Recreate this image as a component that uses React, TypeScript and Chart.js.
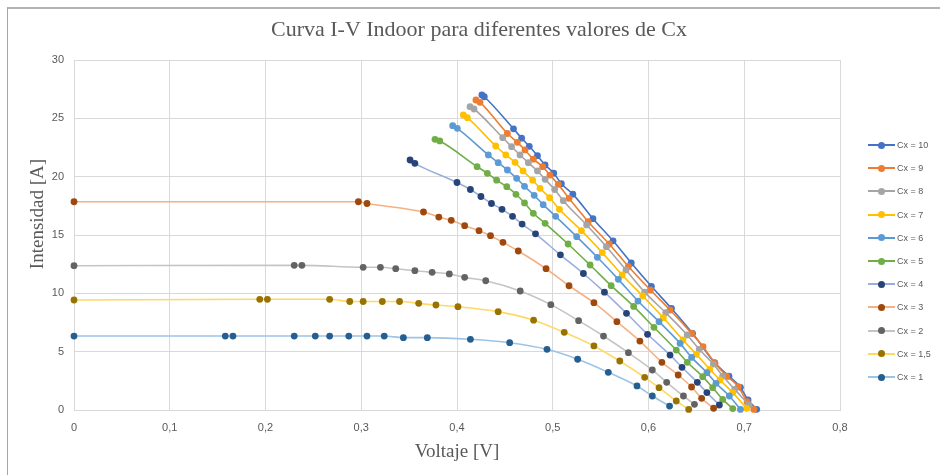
import React, { useEffect, useRef } from 'react';
import { Chart, registerables } from 'chart.js';

Chart.register(...registerables);

const chartTitle = 'Curva I-V Indoor para diferentes valores de Cx';
const xAxisTitle = 'Voltaje [V]';
const yAxisTitle = 'Intensidad [A]';
const xTickLabels = ['0', '0,1', '0,2', '0,3', '0,4', '0,5', '0,6', '0,7', '0,8'];
const yTickLabels = ['0', '5', '10', '15', '20', '25', '30'];
const seriesNames = ['Cx = 10', 'Cx = 9', 'Cx = 8', 'Cx = 7', 'Cx = 6', 'Cx = 5', 'Cx = 4', 'Cx = 3', 'Cx = 2', 'Cx = 1,5', 'Cx = 1'];

// [voltage V, current A]
const cx10: [number, number][] = [[0.426, 27.0], [0.4285, 26.85], [0.459, 24.1], [0.4675, 23.3], [0.4755, 22.6], [0.484, 21.8], [0.492, 21.0], [0.501, 20.3], [0.509, 19.4], [0.521, 18.5], [0.542, 16.4], [0.563, 14.5], [0.582, 12.6], [0.603, 10.6], [0.624, 8.7], [0.646, 6.57], [0.669, 4.06], [0.684, 2.9], [0.696, 1.94], [0.704, 0.86], [0.713, 0.06]];
const cx9: [number, number][] = [[0.4198, 26.57], [0.424, 26.37], [0.4526, 23.7], [0.463, 22.94], [0.471, 22.29], [0.4797, 21.5], [0.4895, 20.86], [0.497, 20.14], [0.5058, 19.34], [0.517, 18.14], [0.537, 16.14], [0.559, 14.23], [0.579, 12.3], [0.602, 10.29], [0.6225, 8.57], [0.645, 6.57], [0.657, 5.43], [0.6695, 4.0], [0.6817, 2.91], [0.6938, 2.0], [0.703, 0.71], [0.71, 0.05]];
const cx8: [number, number][] = [[0.4136, 26.0], [0.4178, 25.8], [0.4477, 23.34], [0.457, 22.57], [0.4658, 21.86], [0.4745, 21.2], [0.484, 20.49], [0.492, 19.77], [0.502, 18.9], [0.511, 17.94], [0.5354, 15.86], [0.556, 14.0], [0.5765, 12.0], [0.596, 10.1], [0.618, 8.34], [0.6405, 6.43], [0.653, 5.2], [0.6677, 3.94], [0.6775, 2.91], [0.69, 1.77], [0.705, 0.43]];
const cx7: [number, number][] = [[0.4066, 25.29], [0.4108, 25.06], [0.4404, 22.63], [0.451, 21.86], [0.4606, 21.23], [0.469, 20.49], [0.479, 19.7], [0.4867, 19.0], [0.4967, 18.2], [0.507, 17.2], [0.53, 15.37], [0.5517, 13.49], [0.5725, 11.57], [0.594, 9.77], [0.6155, 7.91], [0.636, 6.0], [0.65, 4.77], [0.664, 3.49], [0.6747, 2.57], [0.688, 1.49], [0.7025, 0.14]];
const cx6: [number, number][] = [[0.3955, 24.37], [0.4003, 24.14], [0.4327, 21.86], [0.443, 21.2], [0.4526, 20.57], [0.4623, 19.86], [0.4705, 19.17], [0.4806, 18.4], [0.49, 17.6], [0.503, 16.6], [0.525, 14.86], [0.5466, 13.09], [0.5685, 11.2], [0.589, 9.34], [0.611, 7.57], [0.633, 5.71], [0.645, 4.51], [0.661, 3.2], [0.6705, 2.29], [0.6844, 1.2], [0.696, 0.05]];
const cx5: [number, number][] = [[0.377, 23.2], [0.382, 23.06], [0.421, 20.86], [0.4317, 20.29], [0.4414, 19.7], [0.452, 19.14], [0.4616, 18.49], [0.4705, 17.75], [0.4797, 16.86], [0.492, 16.0], [0.516, 14.23], [0.539, 12.43], [0.561, 10.66], [0.5845, 8.88], [0.6057, 7.09], [0.629, 5.14], [0.6405, 4.09], [0.6566, 2.86], [0.667, 1.91], [0.6775, 0.91], [0.688, 0.12]];
const cx4: [number, number][] = [[0.351, 21.43], [0.356, 21.14], [0.4, 19.5], [0.414, 18.9], [0.425, 18.3], [0.436, 17.7], [0.447, 17.2], [0.458, 16.6], [0.468, 15.94], [0.482, 15.1], [0.508, 13.3], [0.532, 11.7], [0.554, 10.1], [0.577, 8.29], [0.599, 6.49], [0.6225, 4.71], [0.635, 3.66], [0.651, 2.37], [0.661, 1.49], [0.674, 0.43]];
const cx3: [number, number][] = [[0, 17.85], [0.297, 17.85], [0.306, 17.7], [0.365, 16.97], [0.381, 16.54], [0.394, 16.26], [0.408, 15.8], [0.423, 15.37], [0.435, 14.94], [0.448, 14.37], [0.464, 13.63], [0.493, 12.11], [0.517, 10.65], [0.543, 9.2], [0.567, 7.57], [0.591, 5.91], [0.614, 4.09], [0.631, 3.0], [0.645, 1.97], [0.6555, 1.0], [0.668, 0.15]];
const cx2: [number, number][] = [[0, 12.37], [0.23, 12.4], [0.238, 12.4], [0.302, 12.23], [0.32, 12.23], [0.336, 12.11], [0.356, 11.94], [0.374, 11.8], [0.392, 11.66], [0.408, 11.37], [0.43, 11.08], [0.466, 10.2], [0.498, 9.03], [0.527, 7.66], [0.553, 6.34], [0.579, 4.91], [0.604, 3.43], [0.619, 2.37], [0.6365, 1.2], [0.648, 0.49]];
const cx15: [number, number][] = [[0, 9.43], [0.194, 9.49], [0.202, 9.49], [0.267, 9.49], [0.288, 9.3], [0.302, 9.3], [0.322, 9.3], [0.34, 9.3], [0.36, 9.14], [0.378, 9.0], [0.401, 8.86], [0.443, 8.43], [0.48, 7.7], [0.512, 6.66], [0.543, 5.49], [0.57, 4.2], [0.596, 2.8], [0.611, 1.91], [0.629, 0.77], [0.642, 0.05]];
const cx1: [number, number][] = [[0, 6.34], [0.158, 6.34], [0.166, 6.34], [0.23, 6.34], [0.252, 6.34], [0.267, 6.34], [0.287, 6.34], [0.306, 6.34], [0.324, 6.34], [0.344, 6.2], [0.369, 6.2], [0.414, 6.06], [0.455, 5.77], [0.494, 5.2], [0.526, 4.35], [0.558, 3.23], [0.588, 2.06], [0.604, 1.2], [0.622, 0.34]];

const seriesData = [cx10, cx9, cx8, cx7, cx6, cx5, cx4, cx3, cx2, cx15, cx1];
const pointColors = ['#4472C4', '#ED7D31', '#A5A5A5', '#FFC000', '#5B9BD5', '#70AD47', '#264478', '#9E480E', '#636363', '#997300', '#255E91'];
const lineColors = ['#4472C4', '#ED7D31', '#A5A5A5', '#FFC000', '#5B9BD5', '#70AD47', '#9AAEDD', '#F4B183', '#C4C4C4', '#FFD966', '#9DC3E6'];

const yTitlePlugin = {
  id: 'yTitle',
  afterDraw(chart: any) {
    const ctx = chart.ctx;
    ctx.save();
    ctx.translate(38, 214);
    ctx.rotate(-Math.PI / 2);
    ctx.font = '19px "Liberation Serif", "Times New Roman", serif';
    ctx.fillStyle = '#595959';
    ctx.textAlign = 'center';
    ctx.textBaseline = 'middle';
    ctx.fillText(yAxisTitle, 0, 0);
    ctx.restore();
  },
};

export default function App() {
  const canvasRef = useRef<HTMLCanvasElement | null>(null);

  useEffect(() => {
    if (!canvasRef.current) return;
    const datasets = seriesData.map((pts, i) => ({
      label: seriesNames[i],
      data: pts.map(([x, y]) => ({ x, y })),
      showLine: true,
      borderColor: lineColors[i],
      backgroundColor: pointColors[i],
      pointBackgroundColor: pointColors[i],
      pointBorderColor: pointColors[i],
      pointBorderWidth: 0,
      pointRadius: 3.4,
      borderWidth: 1.6,
      cubicInterpolationMode: 'monotone' as const,
      clip: 8,
    }));
    const chart = new Chart(canvasRef.current, {
      type: 'scatter',
      data: { datasets: datasets.slice().reverse() },
      options: {
        animation: false,
        responsive: false,
        layout: { padding: { left: 18, right: 0, top: 0, bottom: 0 } },
        plugins: {
          legend: { display: false },
          tooltip: { enabled: false },
          title: {
            display: true,
            text: chartTitle,
            color: '#595959',
            font: { family: '"Liberation Serif", "Times New Roman", serif', size: 22, weight: 'normal' },
            padding: { top: 17, bottom: 16.6 },
          },
        },
        scales: {
          x: {
            type: 'linear',
            min: 0,
            max: 0.8,
            ticks: {
              stepSize: 0.1,
              padding: 11,
              color: '#595959',
              font: { family: '"Liberation Sans", Arial, sans-serif', size: 11 },
              callback: (_v: any, idx: number) => xTickLabels[idx],
            },
            grid: { color: '#D9D9D9', drawTicks: false },
            border: { color: '#D9D9D9' },
            title: {
              display: true,
              text: xAxisTitle,
              color: '#595959',
              font: { family: '"Liberation Serif", "Times New Roman", serif', size: 19, weight: 'normal' },
              padding: { top: 0, bottom: 11.6 },
            },
            afterFit: (s: any) => { s.height = 65; },
          },
          y: {
            type: 'linear',
            min: 0,
            max: 30,
            ticks: {
              stepSize: 5,
              padding: 10,
              color: '#595959',
              font: { family: '"Liberation Sans", Arial, sans-serif', size: 11 },
              callback: (_v: any, idx: number) => yTickLabels[idx],
            },
            grid: { color: '#D9D9D9', drawTicks: false },
            border: { color: '#D9D9D9' },
            afterFit: (s: any) => { s.width = 56; },
          },
          yR: {
            type: 'linear',
            position: 'right',
            display: true,
            min: 0,
            max: 30,
            ticks: { display: false },
            grid: { display: false, drawTicks: false },
            border: { display: false },
            afterFit: (s: any) => { s.width = 100; },
          },
        },
      },
      plugins: [yTitlePlugin],
    } as any);
    return () => chart.destroy();
  }, []);

  return (
    <div style={{ position: 'absolute', left: 0, top: 0, width: 940, height: 475, overflow: 'hidden', background: '#FFFFFF' }}>
      <div style={{ position: 'absolute', left: 7, top: 7, width: 1000, height: 600, borderLeft: '1px solid #A6A6A6', borderTop: '2px solid #B4B4B4' }} />
      <canvas ref={canvasRef} width={940} height={475} style={{ position: 'absolute', left: 0, top: 0, width: 940, height: 475 }} />
      {seriesNames.map((name, i) => (
        <div key={name} style={{ position: 'absolute', left: 868, top: 145 + i * 23.2 - 7, height: 14, width: 72 }}>
          <div style={{ position: 'absolute', left: 0, top: 6, width: 27, height: 2, background: lineColors[i] }} />
          <div style={{ position: 'absolute', left: 10, top: 3.5, width: 7, height: 7, borderRadius: '50%', background: pointColors[i] }} />
          <div style={{ position: 'absolute', left: 29, top: 0, lineHeight: '14px', fontSize: 9, fontFamily: '"Liberation Sans", Arial, sans-serif', color: '#595959', whiteSpace: 'nowrap' }}>{name}</div>
        </div>
      ))}
    </div>
  );
}
